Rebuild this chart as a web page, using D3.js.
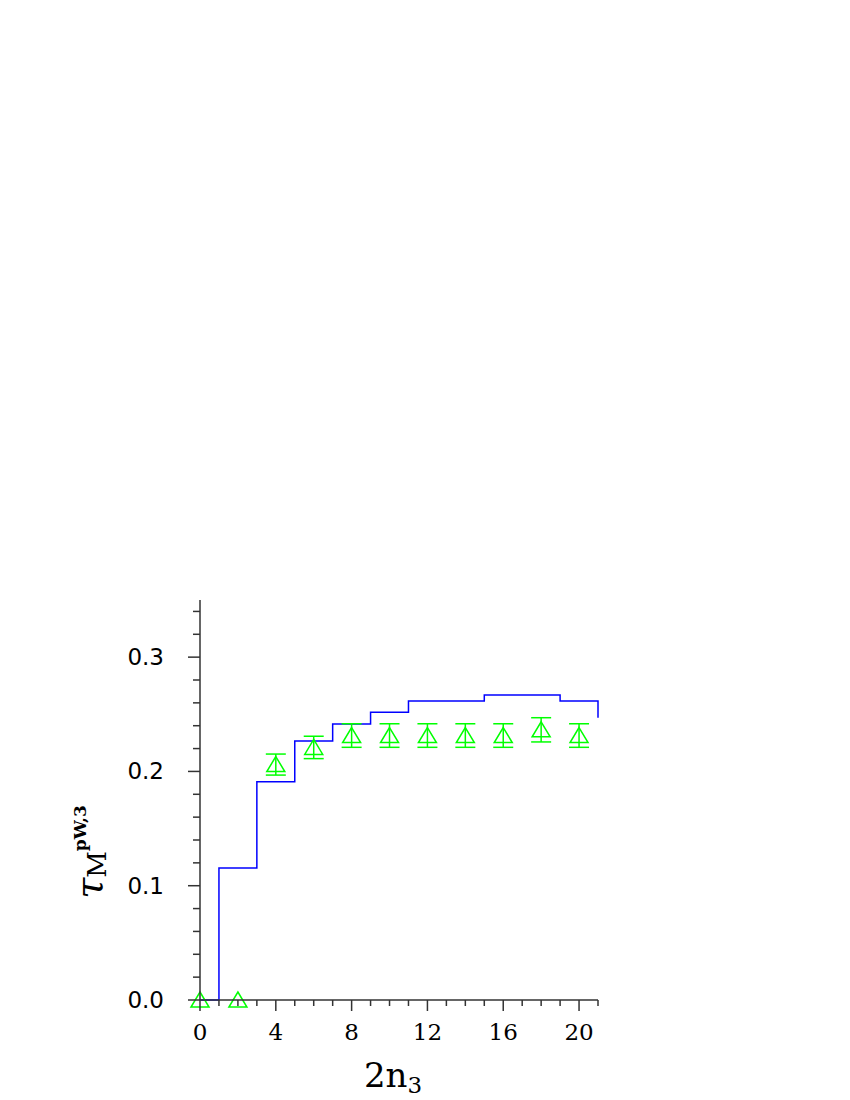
<!DOCTYPE html>
<html><head><meta charset="utf-8">
<script src="https://cdn.jsdelivr.net/npm/d3@7"></script>
<style>body{margin:0;background:#fff}</style>
</head><body>
<svg id="c" width="850" height="1100"></svg>
<script>
// Step (histogram) series: bin edges and values
const stepEdges = [0, 1, 3, 5, 7, 9, 11, 13, 15, 17, 19, 21];
const stepValues = [0, 0.1155, 0.191, 0.2266, 0.2415, 0.2517, 0.2616, 0.2616, 0.2668, 0.2668, 0.2616];
const stepEndValue = 0.247;
// Points with error bars
const ptX = [0, 2, 4, 6, 8, 10, 12, 14, 16, 18, 20];
const ptY = [0, 0, 0.206, 0.221, 0.2314, 0.2314, 0.2314, 0.2314, 0.2314, 0.2364, 0.2314];
const ptErr = [0, 0, 0.0092, 0.0098, 0.0103, 0.0103, 0.0103, 0.0103, 0.0103, 0.0106, 0.0103];
const xTicks = [0, 4, 8, 12, 16, 20];
const yTicks = [0.0, 0.1, 0.2, 0.3];

const svg = d3.select("#c");
const x = d3.scaleLinear().domain([0, 21]).range([200, 598]);
const y = d3.scaleLinear().domain([0, 0.35]).range([1000, 600]);
const font = "DejaVu Serif, serif";
const axisCol = "#333";

// step line
const stepPts = [];
stepValues.forEach((v, i) => {
  stepPts.push([stepEdges[i], v]);
  stepPts.push([stepEdges[i + 1], v]);
});
stepPts.push([21, stepEndValue]);
svg.append("path")
  .attr("d", d3.line().x(d => x(d[0])).y(d => y(d[1]))(stepPts))
  .attr("fill", "none").attr("stroke", "#0000ff").attr("stroke-width", 1.5);

// error bars and triangles
const g = svg.append("g").attr("stroke", "#00ff00").attr("stroke-width", 1.5).attr("fill", "none");
ptX.forEach((xv, i) => {
  const cx = x(xv), cy = y(ptY[i]);
  if (ptErr[i] > 0) {
    const t = y(ptY[i] + ptErr[i]), b = y(ptY[i] - ptErr[i]);
    g.append("line").attr("x1", cx).attr("x2", cx).attr("y1", t).attr("y2", b);
    g.append("line").attr("x1", cx - 10).attr("x2", cx + 10).attr("y1", t).attr("y2", t);
    g.append("line").attr("x1", cx - 10).attr("x2", cx + 10).attr("y1", b).attr("y2", b);
  }
  g.append("path").attr("d", `M${cx},${cy - 8} L${cx + 9},${cy + 7} L${cx - 9},${cy + 7} Z`);
});

// axes
const xa = svg.append("g").attr("stroke", axisCol).attr("stroke-width", 1.5);
xa.append("line").attr("x1", x(0)).attr("x2", x(21)).attr("y1", 1000).attr("y2", 1000);
d3.range(0, 22).forEach(t => {
  const major = t % 4 === 0;
  xa.append("line").attr("x1", x(t)).attr("x2", x(t)).attr("y1", 1000).attr("y2", major ? 1011 : 1006);
});
const ya = svg.append("g").attr("stroke", axisCol).attr("stroke-width", 1.5);
ya.append("line").attr("x1", 200).attr("x2", 200).attr("y1", y(0)).attr("y2", y(0.35));
d3.range(0, 18).forEach(k => {
  const t = k * 0.02;
  const major = k % 5 === 0;
  ya.append("line").attr("x1", 200).attr("x2", major ? 188 : 193).attr("y1", y(t)).attr("y2", y(t));
});

svg.selectAll(".xt").data(xTicks).enter().append("text")
  .attr("x", d => x(d)).attr("y", 1040).attr("text-anchor", "middle")
  .attr("font-family", font).attr("font-size", 23).attr("fill", "#000").text(d => d);
svg.selectAll(".yt").data(yTicks).enter().append("text")
  .attr("x", 164).attr("y", d => y(d) + 8).attr("text-anchor", "end")
  .attr("font-family", "DejaVu Sans, sans-serif").attr("font-size", 23).attr("fill", "#000").text(d => d.toFixed(1));

// x label
const xl = svg.append("text").attr("x", 393).attr("y", 1087).attr("text-anchor", "middle")
  .attr("font-family", font).attr("font-size", 34).attr("fill", "#000");
xl.append("tspan").text("2n");
xl.append("tspan").attr("font-size", 23).attr("dy", 6).text("3");

// y label
const yl = svg.append("text").attr("transform", "translate(102,852) rotate(-90)")
  .attr("text-anchor", "middle").attr("font-family", font).attr("fill", "#000");
yl.append("tspan").attr("font-size", 38).attr("font-style", "italic").text("τ");
yl.append("tspan").attr("font-size", 26).attr("dy", 4).text("M");
yl.append("tspan").attr("font-size", 17).attr("font-weight", "bold").attr("dy", -20).text("pW,3");
</script>
</body></html>
